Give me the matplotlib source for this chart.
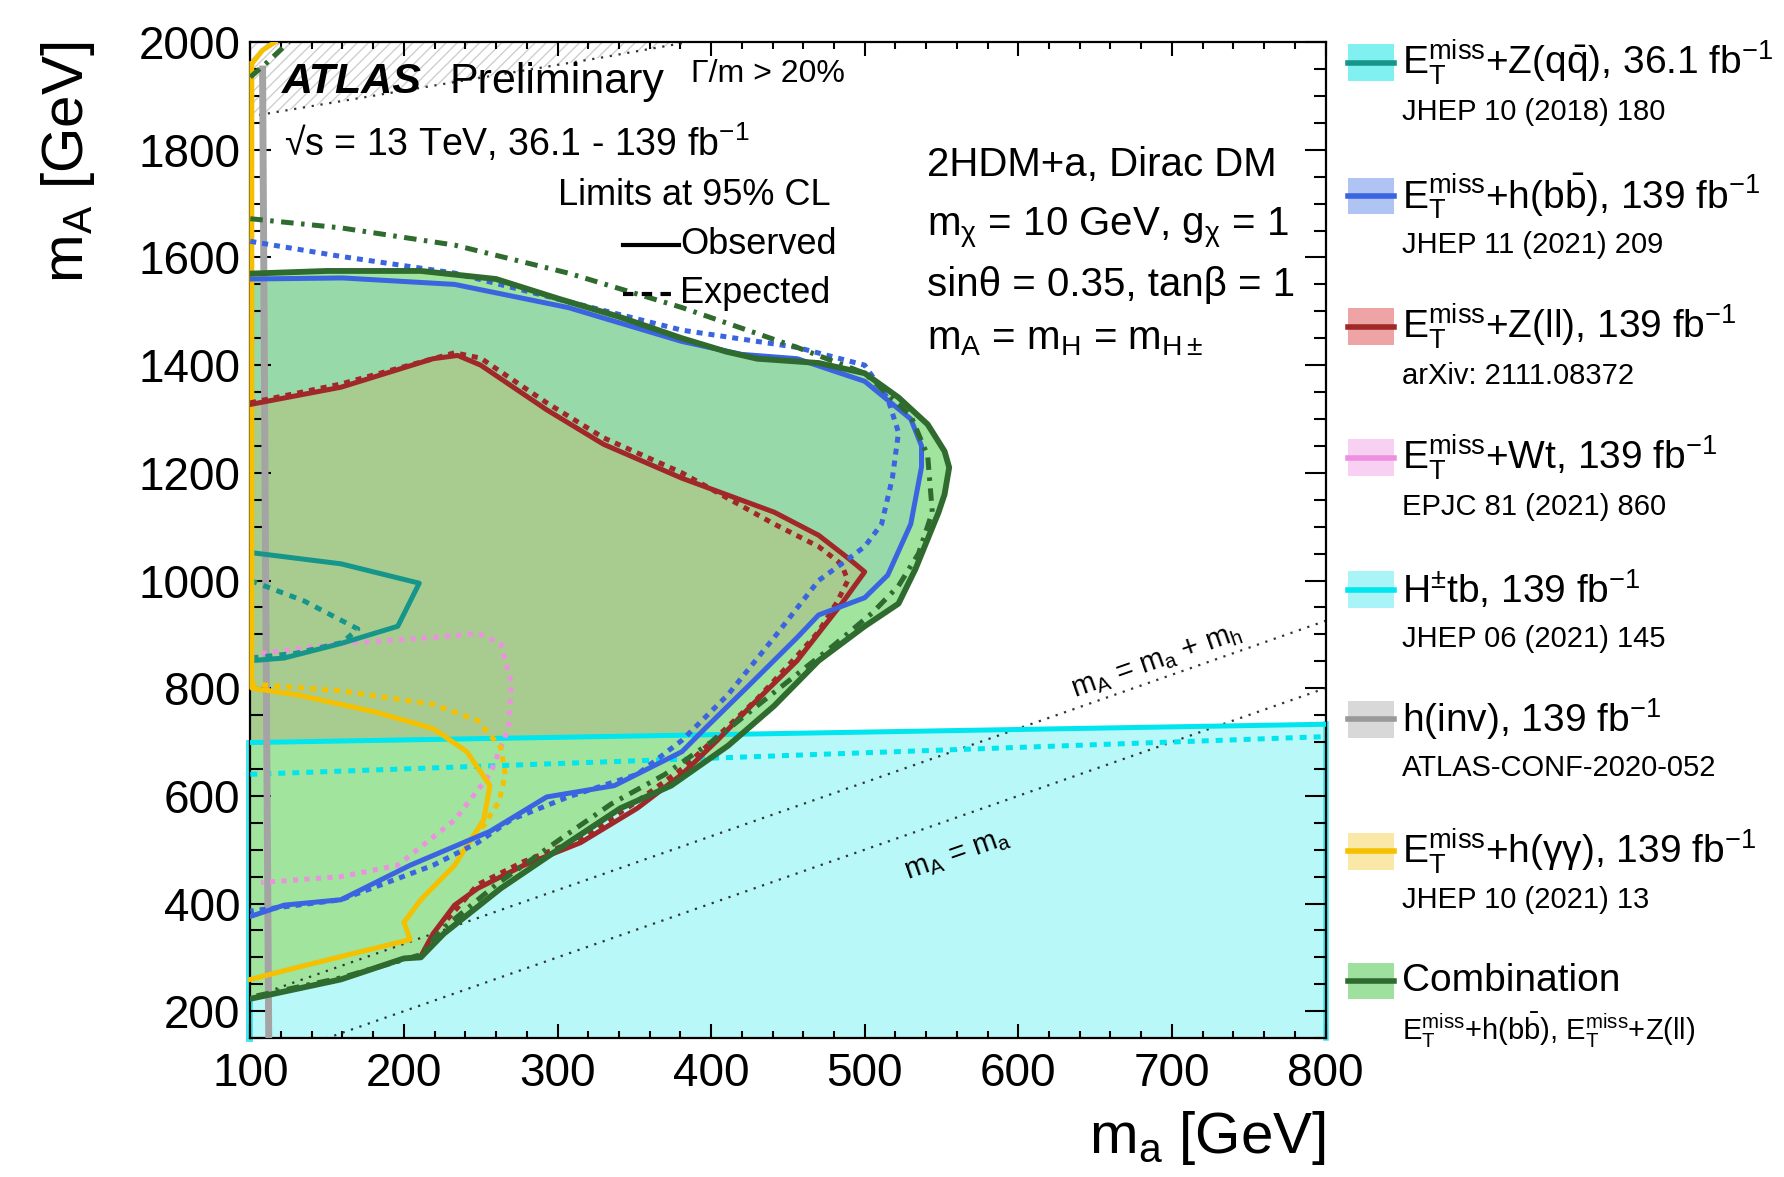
import matplotlib
matplotlib.use("Agg")
import matplotlib.pyplot as plt
import numpy as np
from matplotlib.ticker import MultipleLocator
from matplotlib.patches import Rectangle, Polygon
from matplotlib.lines import Line2D

plt.rcParams['font.family'] = ['Liberation Sans', 'DejaVu Sans']
plt.rcParams['mathtext.fontset'] = 'custom'
plt.rcParams['mathtext.rm'] = 'Liberation Sans'
plt.rcParams['mathtext.it'] = 'Liberation Sans:italic'
plt.rcParams['mathtext.bf'] = 'Liberation Sans:bold'
plt.rcParams['hatch.linewidth'] = 1.0
plt.rcParams['hatch.color'] = '#d2d2d2'

# ---- data (m_a, m_A) in GeV ----
# combination, observed (upper edge left->right, then lower edge back)
comb_obs_x = [100, 150, 211, 260, 300, 340, 381, 410, 430, 470, 500, 522, 541, 552, 555,
              552, 548, 540, 533, 522, 500, 470, 441, 411, 374, 341, 307, 263, 226, 211, 200, 159, 100]
comb_obs_y = [1570, 1575, 1575, 1560, 1524, 1490, 1450, 1425, 1412, 1404, 1385, 1340, 1290, 1240, 1210,
              1160, 1126, 1070, 1021, 957, 915, 851, 767, 693, 619, 577, 513, 428, 344, 300, 298, 259, 223]
# combination, expected
comb_exp_x = [100, 159, 233, 307, 381, 456, 500, 530, 541, 544, 535, 522, 505, 480, 440, 405, 370,
              335, 302, 260, 224, 211, 159, 100]
comb_exp_y = [1672, 1655, 1623, 1571, 1507, 1433, 1385, 1306, 1232, 1127, 1050, 990, 940, 880, 790, 710, 640,
              585, 520, 435, 350, 305, 262, 226]
comb_exp_top_x = [100, 112, 125]
comb_exp_top_y = [1935, 1965, 2000]

# E_T^miss + h(bb)
hbb_obs_x = [100, 160, 233, 307, 381, 420, 456, 500, 530, 537, 537,
             530, 515, 500, 470, 456, 426, 396, 381, 337, 293, 256, 204, 159, 122, 100]
hbb_obs_y = [1560, 1562, 1550, 1507, 1444, 1420, 1412, 1370, 1300, 1250, 1211,
             1105, 1010, 968, 936, 894, 809, 725, 682, 619, 598, 534, 471, 407, 397, 376]
hbb_exp_x = [100, 159, 233, 307, 381, 456, 500, 515, 522, 518, 511, 500, 485, 470, 441, 411, 381,
             352, 307, 270, 248, 219, 159, 100]
hbb_exp_y = [1630, 1602, 1571, 1518, 1465, 1433, 1400, 1338, 1275, 1190, 1105, 1063, 1031, 1000, 894, 788, 703,
             640, 598, 556, 513, 471, 407, 386]

# E_T^miss + Z(ll)
zll_obs_x = [100, 159, 219, 235, 250, 293, 330, 381, 441, 470, 489, 500,
             485, 456, 426, 404, 381, 352, 315, 278, 248, 233, 219, 211]
zll_obs_y = [1327, 1359, 1412, 1418, 1400, 1317, 1253, 1190, 1127, 1084, 1042, 1016,
             957, 851, 767, 703, 640, 577, 513, 471, 428, 397, 344, 302]
zll_exp_x = [100, 159, 233, 250, 293, 330, 381, 441, 470, 485, 489, 482, 470, 456, 430, 404, 381,
             352, 315, 278, 248, 225]
zll_exp_y = [1330, 1365, 1423, 1413, 1330, 1265, 1200, 1105, 1063, 1030, 1000, 960, 905, 860, 780, 710, 650,
             590, 520, 478, 435, 360]

# E_T^miss + Z(qq)
zqq_obs_x = [100, 159, 210, 196, 159, 122, 100]
zqq_obs_y = [1052, 1031, 995, 915, 883, 856, 851]
zqq_exp_x = [100, 135, 170, 160, 130, 100]
zqq_exp_y = [1000, 962, 910, 885, 865, 856]

# E_T^miss + Wt (expected only)
wt_exp_x = [100, 159, 219, 248, 263, 270, 268, 256, 233, 196, 159, 107]
wt_exp_y = [862, 883, 894, 902, 883, 809, 725, 640, 555, 471, 450, 439]

# E_T^miss + h(yy)
hyy_obs_x = [101, 101, 130, 181, 219, 241, 256, 252, 233, 211, 200, 204, 174, 130, 100]
hyy_obs_y = [1960, 800, 788, 756, 725, 682, 619, 556, 471, 407, 365, 333, 312, 281, 259]
hyy_exp_x = [100, 159, 219, 248, 263, 266, 262, 252, 240, 233]
hyy_exp_y = [808, 795, 770, 740, 690, 640, 590, 545, 505, 480]
hyy_top_x = [101, 108, 116]
hyy_top_y = [1960, 1985, 2000]

# H+- tb
htb_obs_x = [100, 800]
htb_obs_y = [699, 733]
htb_exp_x = [100, 800]
htb_exp_y = [640, 710]

# h(inv)
hinv_x = [112, 110, 108]
hinv_y = [150, 1000, 1950]

# Gamma/m > 20% boundary
width_x = [100, 221, 330, 381, 385]
width_y = [1862, 1920, 1972, 1998, 2000]

m_h = 125

# legend entries
leg_main = [r"$\mathrm{E_{T}^{miss}}$+Z(q$\bar{\mathrm{q}}$), 36.1 fb$^{\mathrm{-1}}$",
            r"$\mathrm{E_{T}^{miss}}$+h(b$\bar{\mathrm{b}}$), 139 fb$^{\mathrm{-1}}$",
            r"$\mathrm{E_{T}^{miss}}$+Z(ll), 139 fb$^{\mathrm{-1}}$",
            r"$\mathrm{E_{T}^{miss}}$+Wt, 139 fb$^{\mathrm{-1}}$",
            r"H$^{\mathrm{\pm}}$tb, 139 fb$^{\mathrm{-1}}$",
            r"h(inv), 139 fb$^{\mathrm{-1}}$",
            r"$\mathrm{E_{T}^{miss}}$+h(γγ), 139 fb$^{\mathrm{-1}}$",
            "Combination"]
leg_sub = ["JHEP 10 (2018) 180",
           "JHEP 11 (2021) 209",
           "arXiv: 2111.08372",
           "EPJC 81 (2021) 860",
           "JHEP 06 (2021) 145",
           "ATLAS-CONF-2020-052",
           "JHEP 10 (2021) 13",
           r"$\mathrm{E_{T}^{miss}}$+h(b$\bar{\mathrm{b}}$), $\mathrm{E_{T}^{miss}}$+Z(ll)"]
leg_fill = ['#80f0f0', '#b0c4f4', '#eea4a4', '#f8d0f2', '#a8f4f6', '#d8d8d8', '#fae8a8', '#9ee09e']
leg_line = ['#16958a', '#3a64e0', '#a02828', '#ee90e0', '#00e5ee', '#999999', '#f5c000', '#2f6a2f']

# ---- figure ----
fig = plt.figure(figsize=(17.84, 11.77), dpi=100)
ax = fig.add_axes([0.1403, 0.118, 0.6027, 0.8462])
ax.set_xlim(100, 800)
ax.set_ylim(150, 2000)

c_zqq, c_hbb, c_zll, c_wt, c_htb, c_hinv, c_hyy, c_comb = leg_line

# fills
ax.fill_between(htb_obs_x, 150, htb_obs_y, color='#b8f8f8', lw=0, zorder=1)
wx = np.linspace(100, 385, 50)
ax.fill_between(wx, np.interp(wx, width_x, width_y), 2000, facecolor='none', edgecolor='#cfcfcf',
                hatch='///', lw=0, zorder=1)

green_fill = '#a0e49e'
ax.fill(comb_obs_x, comb_obs_y, color=green_fill, lw=0, zorder=1.2)
hbb_patch = ax.fill(hbb_obs_x, hbb_obs_y, color='#97d9a9', lw=0, zorder=1.3)[0]
zll_patch = ax.fill(zll_obs_x + [200, 159, 100], zll_obs_y + [298, 259, 240],
                    color='#a8cc90', lw=0, zorder=1.4)[0]
zll_patch.set_clip_path(Polygon(list(zip(hbb_obs_x, hbb_obs_y)), closed=True, transform=ax.transData))
# below the H+-tb line the combination colour shows through
low_patch = ax.fill(comb_obs_x, comb_obs_y, color=green_fill, lw=0, zorder=1.5)[0]
low_patch.set_clip_path(Polygon([(htb_obs_x[0], 150), (htb_obs_x[1], 150),
                                 (htb_obs_x[1], htb_obs_y[1]), (htb_obs_x[0], htb_obs_y[0])],
                                closed=True, transform=ax.transData))

# kinematic lines
xx = np.array([100, 800])
ax.plot(xx, xx, ls=(0, (1, 3)), color='#333333', lw=1.6, zorder=2)
ax.plot(xx, xx + m_h, ls=(0, (1, 3)), color='#333333', lw=1.6, zorder=2)
ax.plot(width_x, width_y, ls=(0, (1, 3)), color='#333333', lw=1.6, zorder=2)

# contours
lw = 3.6
ax.plot(htb_obs_x, htb_obs_y, color=c_htb, lw=lw, zorder=3)
ax.plot(htb_exp_x, htb_exp_y, color=c_htb, lw=lw, ls=(0, (1.4, 1.4)), zorder=3)
ax.plot(hinv_x, hinv_y, color='#a4a4a4', lw=5, zorder=3)
ax.plot(wt_exp_x, wt_exp_y, color=c_wt, lw=lw, ls=(0, (1, 1.3)), zorder=3)
ax.plot(zqq_obs_x, zqq_obs_y, color=c_zqq, lw=lw, zorder=3)
ax.plot(zqq_exp_x, zqq_exp_y, color=c_zqq, lw=lw, ls=(0, (1.4, 1.4)), zorder=3)
ax.plot(hyy_obs_x, hyy_obs_y, color=c_hyy, lw=lw, zorder=3, clip_on=False)
ax.plot(hyy_top_x, hyy_top_y, color=c_hyy, lw=lw, zorder=3)
ax.plot(hyy_exp_x, hyy_exp_y, color=c_hyy, lw=lw, ls=(0, (1.2, 1.2)), zorder=3)
ax.plot(zll_obs_x, zll_obs_y, color=c_zll, lw=lw, zorder=3.2)
ax.plot(zll_exp_x, zll_exp_y, color=c_zll, lw=lw, ls=(0, (1.2, 1.2)), zorder=3.2)
ax.plot(hbb_obs_x, hbb_obs_y, color=c_hbb, lw=lw, zorder=3.3)
ax.plot(hbb_exp_x, hbb_exp_y, color=c_hbb, lw=lw, ls=(0, (1.2, 1.2)), zorder=3.3)
ax.plot(comb_exp_x, comb_exp_y, color=c_comb, lw=lw, ls=(0, (2.5, 1.5, 0.7, 1.5)), zorder=3.4)
ax.plot(comb_exp_top_x, comb_exp_top_y, color=c_comb, lw=lw, ls=(0, (2.5, 1.5, 0.7, 1.5)), zorder=3.4)
ax.plot(comb_obs_x, comb_obs_y, color=c_comb, lw=4.2, zorder=3.5)

# cyan fill spilling over the frame
ax.plot([99, 99], [150, 699], color='#40e8f0', lw=5, zorder=1, clip_on=False)
ax.plot([800.5, 800.5], [150, 733], color='#40e8f0', lw=4, zorder=1, clip_on=False)

# axes style
for s in ax.spines.values():
    s.set_linewidth(1.6)
ax.xaxis.set_major_locator(MultipleLocator(100))
ax.xaxis.set_minor_locator(MultipleLocator(20))
ax.yaxis.set_major_locator(MultipleLocator(200))
ax.yaxis.set_minor_locator(MultipleLocator(50))
ax.tick_params(which='both', direction='in', top=True, right=True, labelsize=33, width=1.5)
ax.tick_params(axis='y', which='major', length=15, pad=7)
ax.tick_params(axis='y', which='minor', length=9)
ax.tick_params(axis='x', which='major', length=10, pad=10)
ax.tick_params(axis='x', which='minor', length=5)
ax.set_yticks(np.arange(200, 2001, 200))

def fxy(px, py):
    return px / 1568, 1 - py / 1034

fig.text(*fxy(60, 37), r"m$_\mathrm{A}$ [GeV]", rotation=90, ha='center', va='top', fontsize=42)
fig.text(*fxy(1165, 1000), r"m$_\mathrm{a}$ [GeV]", ha='right', va='center', fontsize=42)

# labels in the plot
fig.text(*fxy(248, 72), "ATLAS", fontsize=31, fontweight='bold', style='italic', va='center', zorder=5)
fig.text(*fxy(395, 72), "Preliminary", fontsize=31, va='center', zorder=5)
fig.text(*fxy(607, 65), "Γ/m > 20%", fontsize=23, va='center', zorder=5)
fig.text(*fxy(250, 125), "√s = 13 TeV, 36.1 - 139 fb$^{\\mathrm{-1}}$", fontsize=27, va='center', zorder=5)
fig.text(*fxy(730, 172), "Limits at 95% CL", fontsize=26, ha='right', va='center', zorder=5)
fig.add_artist(Line2D([548 / 1568, 597 / 1568], [1 - 215 / 1034] * 2, color='black', lw=3))
fig.add_artist(Line2D([548 / 1568, 597 / 1568], [1 - 258 / 1034] * 2, color='black', lw=3,
                      ls=(0, (2.5, 2))))
fig.text(*fxy(598, 215), "Observed", fontsize=26, va='center')
fig.text(*fxy(598, 258), "Expected", fontsize=26, va='center')

fig.text(*fxy(815, 145), "2HDM+a, Dirac DM", fontsize=29, va='center')
fig.text(*fxy(815, 200), r"m$_\mathrm{χ}$ = 10 GeV, g$_\mathrm{χ}$ = 1", fontsize=29, va='center')
fig.text(*fxy(815, 250), "sinθ = 0.35, tanβ = 1", fontsize=29, va='center')
fig.text(*fxy(815, 298), r"m$_\mathrm{A}$ = m$_\mathrm{H}$ = m$_\mathrm{H\pm}$", fontsize=29, va='center')

ax.text(690, 850, r"m$_\mathrm{A}$ = m$_\mathrm{a}$ + m$_\mathrm{h}$", fontsize=21, rotation=19.3,
        ha='center', va='center', rotation_mode='anchor', zorder=5)
ax.text(560, 490, r"m$_\mathrm{A}$ = m$_\mathrm{a}$", fontsize=21, rotation=19.3,
        ha='center', va='center', rotation_mode='anchor', zorder=5)

# legend on the right
leg_y = [55, 172, 287, 402, 518, 632, 748, 862]
for i in range(len(leg_main)):
    yc = leg_y[i]
    fig.add_artist(Rectangle((1185 / 1568, 1 - (yc + 16) / 1034), 40 / 1568, 32 / 1034,
                             facecolor=leg_fill[i], edgecolor='none'))
    fig.add_artist(Line2D([1185 / 1568, 1225 / 1568], [1 - yc / 1034] * 2, color=leg_line[i], lw=4))
    fig.text(*fxy(1232, yc), leg_main[i], fontsize=28, va='center')
    fig.text(*fxy(1232, yc + 43), leg_sub[i], fontsize=21, va='center')

fig.savefig("out.png", dpi=100)
